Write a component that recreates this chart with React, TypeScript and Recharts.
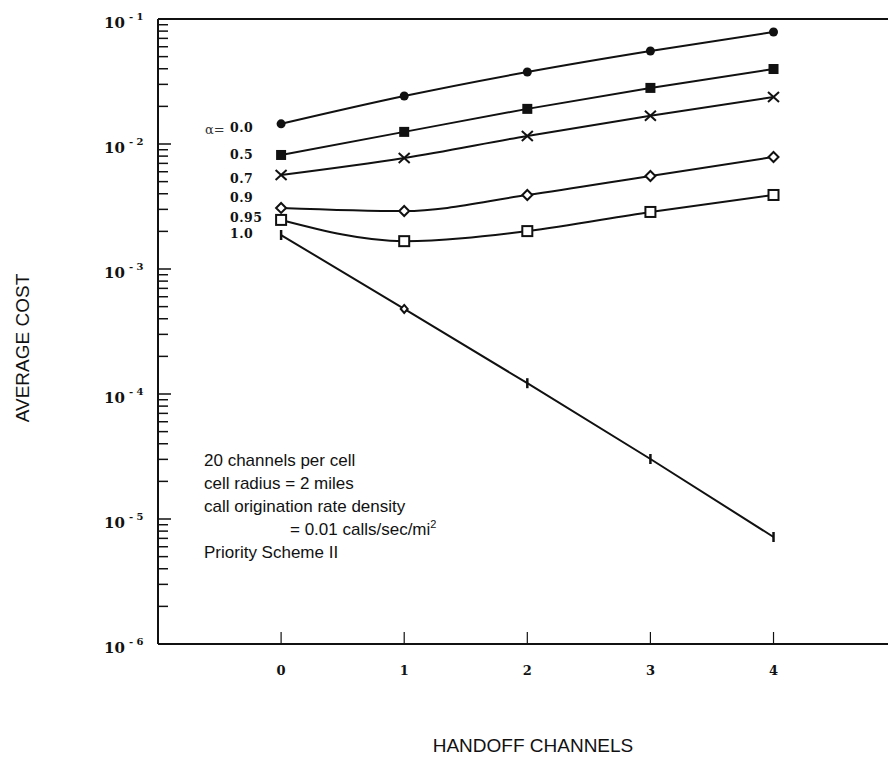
import React from "react";
import { LineChart, Line, XAxis, YAxis, ReferenceLine } from "recharts";

// handoff channels
const handoff = [0, 1, 2, 3, 4];

// average cost per alpha
const alpha00 = [0.0145, 0.0242, 0.0377, 0.0555, 0.0787];
const alpha05 = [0.00817, 0.0125, 0.0191, 0.0281, 0.0398];
const alpha07 = [0.00565, 0.00773, 0.0116, 0.0168, 0.0238];
const alpha09 = [0.00308, 0.00291, 0.00391, 0.00555, 0.00787];
const alpha095 = [0.00247, 0.00167, 0.00201, 0.00286, 0.00391];
const alpha10 = [0.00187, 0.000479, 0.000122, 0.0000302, 0.00000718];

const alphaLabels = ["0.0", "0.5", "0.7", "0.9", "0.95", "1.0"];

// y ticks: decades plus minor ticks 2..9
const decades = [-6, -5, -4, -3, -2, -1];
const minors = [2, 3, 4, 5, 6, 7, 8, 9];
const xTicks = [0, 1, 2, 3, 4];

const yTicks: number[] = [];
decades.forEach((d) => {
  yTicks.push(Math.pow(10, d));
  if (d < -1) minors.forEach((m) => yTicks.push(m * Math.pow(10, d)));
});

const data = handoff.map((h, i) => ({
  h,
  a00: alpha00[i],
  a05: alpha05[i],
  a07: alpha07[i],
  a09: alpha09[i],
  a095: alpha095[i],
  a10: alpha10[i],
}));

const serif = "'DejaVu Serif', serif";
const sans = "'Liberation Sans', Arial, sans-serif";
const ink = "#111";

const YTick = (props: any) => {
  const { x, y, payload } = props;
  const v = payload.value;
  const exp = Math.round(Math.log10(v));
  const major = Math.abs(v - Math.pow(10, exp)) < 1e-12;
  return (
    <g>
      <line x1={x} y1={y} x2={x + (major ? 13 : 10)} y2={y} stroke={ink} strokeWidth={1.5} />
      {major && (
        <text x={x - 54} y={y + 9} fontFamily={serif} fontWeight="bold" fontSize={15} fill={ink}>
          10
          <tspan dx={4} dy={-8} fontSize={10}>
            {"- " + -exp}
          </tspan>
        </text>
      )}
    </g>
  );
};

const XTick = (props: any) => {
  const { x, y, payload } = props;
  return (
    <g>
      <line x1={x} y1={y} x2={x} y2={y - 12} stroke={ink} strokeWidth={1.2} />
      <text x={x} y={y + 31} textAnchor="middle" fontFamily={serif} fontWeight="bold" fontSize={13} fill={ink}>
        {payload.value}
      </text>
    </g>
  );
};

const dotFor = (kind: string) => (p: any) => {
  const { cx, cy, index } = p;
  const k = `${kind}-${index}`;
  if (cx == null || cy == null) return <g key={k} />;
  switch (kind) {
    case "circle":
      return <circle key={k} cx={cx} cy={cy} r={4.5} fill={ink} />;
    case "square":
      return <rect key={k} x={cx - 5} y={cy - 5} width={10} height={10} fill={ink} />;
    case "cross":
      return (
        <g key={k} stroke={ink} strokeWidth={2}>
          <line x1={cx - 5.5} y1={cy - 5} x2={cx + 5.5} y2={cy + 5} />
          <line x1={cx - 5.5} y1={cy + 5} x2={cx + 5.5} y2={cy - 5} />
        </g>
      );
    case "diamond":
      return (
        <path key={k} d={`M${cx},${cy - 5} L${cx + 5},${cy} L${cx},${cy + 5} L${cx - 5},${cy} Z`} fill="#fff" stroke={ink} strokeWidth={2} />
      );
    case "box":
      return <rect key={k} x={cx - 5} y={cy - 5} width={10} height={10} fill="#fff" stroke={ink} strokeWidth={2} />;
    default:
      if (index === 1)
        return (
          <path key={k} d={`M${cx},${cy - 4} L${cx + 3.5},${cy} L${cx},${cy + 4} L${cx - 3.5},${cy} Z`} fill="#fff" stroke={ink} strokeWidth={2} />
        );
      return <line key={k} x1={cx} y1={cy - 5} x2={cx} y2={cy + 5} stroke={ink} strokeWidth={2.5} />;
  }
};

const series = [
  { key: "a00", kind: "circle", type: "monotone" },
  { key: "a05", kind: "square", type: "monotone" },
  { key: "a07", kind: "cross", type: "monotone" },
  { key: "a09", kind: "diamond", type: "monotone" },
  { key: "a095", kind: "box", type: "monotone" },
  { key: "a10", kind: "tick", type: "linear" },
];

const labelPos = [
  { x: 230, y: 132 },
  { x: 230, y: 159 },
  { x: 230, y: 183 },
  { x: 230, y: 202 },
  { x: 230, y: 222 },
  { x: 230, y: 238 },
];

const notes = ["20 channels per cell", "cell radius = 2 miles", "call origination rate density"];

export default function App() {
  return (
    <div style={{ position: "absolute", left: 0, top: 0, width: 888, height: 759, background: "#fff" }}>
      <LineChart width={888} height={759} data={data} margin={{ top: 19, right: 0, left: 0, bottom: 0 }}>
        <XAxis
          dataKey="h"
          type="number"
          domain={[-1, 4.93]}
          ticks={xTicks}
          height={115}
          tickSize={0}
          tickMargin={0}
          tickLine={false}
          tick={<XTick />}
          axisLine={{ stroke: ink, strokeWidth: 2 }}
          allowDataOverflow
        />
        <YAxis
          scale="log"
          domain={[1e-6, 1e-1]}
          ticks={yTicks}
          width={158}
          tickSize={0}
          tickMargin={0}
          tickLine={false}
          tick={<YTick />}
          interval={0}
          axisLine={{ stroke: ink, strokeWidth: 2 }}
          allowDataOverflow
        />
        <ReferenceLine y={0.1} stroke={ink} strokeWidth={2} />
        {series.map((s) => (
          <Line
            key={s.key}
            dataKey={s.key}
            type={s.type as any}
            stroke={ink}
            strokeWidth={2}
            dot={dotFor(s.kind)}
            activeDot={false}
            isAnimationActive={false}
          />
        ))}
      </LineChart>
      <svg width={888} height={759} style={{ position: "absolute", left: 0, top: 0, pointerEvents: "none" }}>
        <text x={29} y={348} transform="rotate(-90, 29, 348)" textAnchor="middle" fontFamily={sans} fontSize={19} fill={ink}>
          AVERAGE COST
        </text>
        <text x={533} y={752} textAnchor="middle" fontFamily={sans} fontSize={19} fill={ink}>
          HANDOFF CHANNELS
        </text>
        <text x={205} y={134} fontFamily={serif} fontSize={13} fill="#333">
          α=
        </text>
        {alphaLabels.map((l, i) => (
          <text key={l} x={labelPos[i].x} y={labelPos[i].y} fontFamily={serif} fontWeight="bold" fontSize={12.5} letterSpacing={0.5} fill={ink}>
            {l}
          </text>
        ))}
        {notes.map((n, i) => (
          <text key={n} x={204} y={466 + i * 23} fontFamily={sans} fontSize={17} fill={ink}>
            {n}
          </text>
        ))}
        <text x={290} y={535} fontFamily={sans} fontSize={17} fill={ink}>
          = 0.01 calls/sec/mi
          <tspan dy={-7} fontSize={11}>2</tspan>
        </text>
        <text x={204} y={558} fontFamily={sans} fontSize={17} fill={ink}>
          Priority Scheme II
        </text>
      </svg>
    </div>
  );
}
